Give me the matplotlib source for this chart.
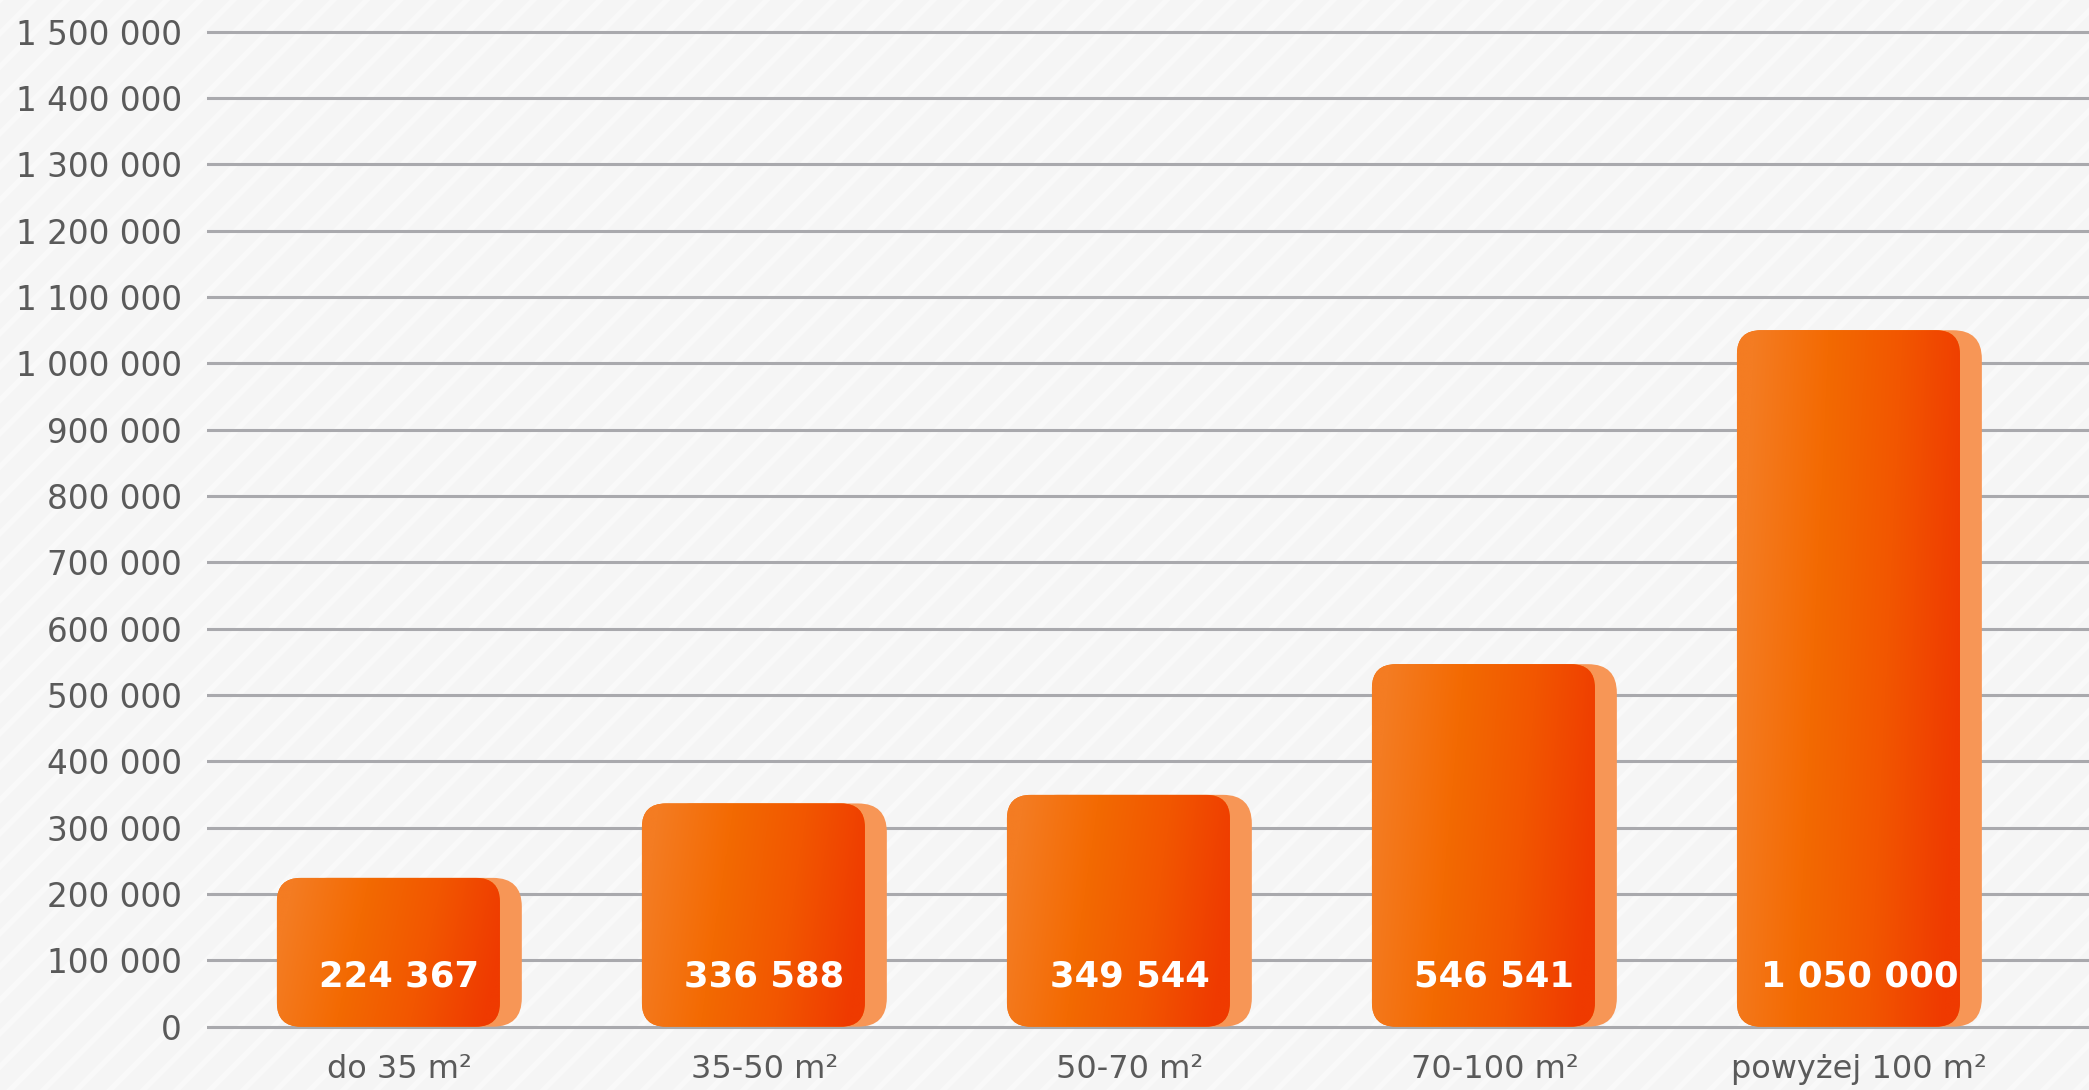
import matplotlib
matplotlib.use('Agg')
import numpy as np
import matplotlib.pyplot as plt
from matplotlib.patches import FancyBboxPatch, Rectangle
from matplotlib.colors import LinearSegmentedColormap
from matplotlib.ticker import FuncFormatter, MultipleLocator

# dane
categories = ['do 35 m²', '35-50 m²', '50-70 m²', '70-100 m²', 'powyżej 100 m²']
values = [224367, 336588, 349544, 546541, 1050000]
value_labels = ['224 367', '336 588', '349 544', '546 541', '1 050 000']

plt.rcParams['font.family'] = ['DejaVu Sans']
plt.rcParams['hatch.linewidth'] = 4.0

W, H = 2089, 1090
fig = plt.figure(figsize=(W / 100, H / 100), dpi=100)
fig.patch.set_facecolor('#F5F5F5')
# tlo w paski
fig.patches.append(Rectangle((0, 0), 1, 1, transform=fig.transFigure,
                             facecolor='#F5F5F5', edgecolor='#F9F9F9',
                             hatch='/', lw=0, zorder=-10))

# geometria osi (px od gory): 0 -> 1026.7, 100k -> 66.33 px
zero_px = 1026.7
px_per = 66.33 / 100000
ymin, ymax = -60000, 1530000
top_px = zero_px - ymax * px_per
bot_px = zero_px - ymin * px_per
left_px = 207
ax = fig.add_axes([left_px / W, (H - bot_px) / H, (W - left_px) / W, (bot_px - top_px) / H])
ax.set_zorder(5)
ax.patch.set_visible(False)
for s in ax.spines.values():
    s.set_visible(False)

xmin, xmax = -0.497, 4.659
ax.set_xlim(xmin, xmax)
ax.set_ylim(ymin, ymax)

ax.yaxis.set_major_locator(MultipleLocator(100000))
ax.yaxis.set_major_formatter(FuncFormatter(lambda v, p: f'{int(v):,}'.replace(',', ' ') if v >= 0 else ''))
ax.tick_params(axis='y', length=0, pad=18, labelsize=23.5, labelcolor='#5A5A5A')
ax.set_xticks([])
ax.grid(axis='y', color='#A9A9AD', lw=2.2, zorder=1)
ax.set_axisbelow(True)

# proporcja dla zaokraglen
x_per_px = (xmax - xmin) / (W - left_px)
y_per_px = 1 / px_per
aspect = y_per_px / x_per_px

bar_w = 0.611
shadow_off = 0.06
r = 24 * x_per_px

cmap = LinearSegmentedColormap.from_list('og', ['#F47C22', '#F36A02', '#F25600', '#EF3A00'])
xx, yy = np.meshgrid(np.linspace(0, 1, 200), np.linspace(0, 1, 200))
grad = np.clip(xx + 0.15 * (yy - 0.5), 0, 1)

x = np.arange(len(categories))
for i, v in enumerate(values):
    x0 = x[i] - bar_w / 2
    shadow = FancyBboxPatch((x0 + shadow_off, 0), bar_w, v,
                            boxstyle=f'round,pad=0,rounding_size={r * 1.2}',
                            mutation_aspect=aspect, fc='#F79656', ec='none', zorder=2)
    ax.add_patch(shadow)
    front = FancyBboxPatch((x0, 0), bar_w, v,
                           boxstyle=f'round,pad=0,rounding_size={r}',
                           mutation_aspect=aspect, fc='#F36C05', ec='none', zorder=3)
    ax.add_patch(front)
    im = ax.imshow(grad, cmap=cmap, extent=[x0, x0 + bar_w, 0, v], origin='upper',
                   aspect='auto', zorder=3.5)
    im.set_clip_path(front)
    cx = x[i] + shadow_off / 2
    ax.text(cx, 75000, value_labels[i], ha='center', va='center', color='white',
            fontsize=25.5, fontweight='bold', zorder=5)
    ax.text(cx, -65000, categories[i], ha='center', va='center', color='#5A5A5A',
            fontsize=23, clip_on=False)

ax.set_xlim(xmin, xmax)
ax.set_ylim(ymin, ymax)

fig.savefig('out.png', dpi=100, facecolor=fig.get_facecolor())
